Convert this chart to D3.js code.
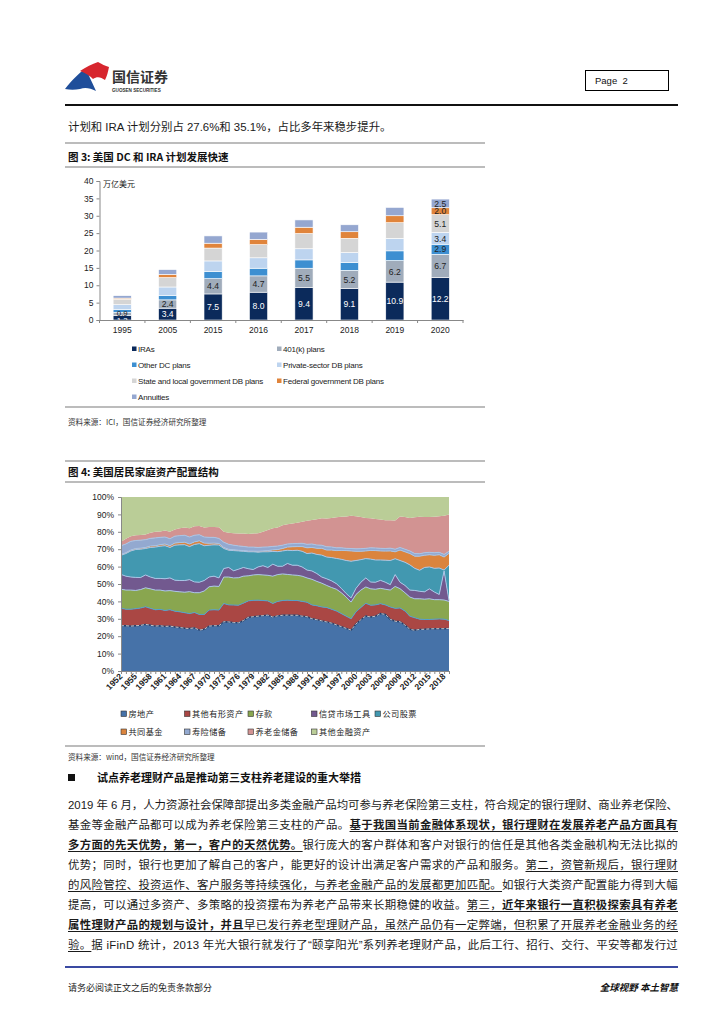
<!DOCTYPE html>
<html>
<head>
<meta charset="utf-8">
<script src="https://cdn.jsdelivr.net/npm/d3@7"></script>
<style>
  body { margin: 0; background: #fff; }
  #page { position: relative; width: 724px; height: 1024px; overflow: hidden; background: #fff; }
  #page svg { position: absolute; left: 0; top: 0; }
  .para { position: absolute; left: 68px; white-space: nowrap;
          font-family: "Liberation Sans", "Noto Sans CJK SC", sans-serif; font-size: 11.4px; line-height: 17px;
          color: #1a1a1a; }
  .para .u { text-decoration: underline; text-underline-offset: 2px; }
  .para .b { font-weight: bold; }
</style>
</head>
<body>
<div id="page"></div>
<script>
// ---- 图3 数据 (万亿美元)
const years3 = ["1995", "2005", "2015", "2016", "2017", "2018", "2019", "2020"];
const iras      = [1.3, 3.4, 7.5, 8.0, 9.4, 9.1, 10.9, 12.2];
const k401      = [0.9, 2.4, 4.4, 4.7, 5.5, 5.2, 6.2, 6.7];
const otherDC   = [0.8, 1.3, 2.1, 2.2, 2.4, 2.2, 2.8, 2.9];
const privateDB = [1.4, 2.4, 3.0, 3.0, 3.2, 2.9, 3.6, 3.4];
const stateDB   = [1.6, 2.7, 3.7, 3.8, 4.4, 4.1, 4.5, 5.1];
const federalDB = [0.3, 0.9, 1.4, 1.5, 1.8, 1.9, 2.0, 2.0];
const annuities = [0.7, 1.4, 2.1, 2.1, 2.1, 2.0, 2.4, 2.5];
const names3 = ["IRAs", "401(k) plans", "Other DC plans", "Private-sector DB plans",
  "State and local government DB plans", "Federal government DB plans", "Annuities"];
const colors3 = ["#0b2a5b", "#a0acbb", "#3d8fd1", "#bdd4ef", "#d5d5d5", "#e0843b", "#95a7d0"];
const yTicks3 = [0, 5, 10, 15, 20, 25, 30, 35, 40];

// ---- 图4 数据 (%), 1952-2019
const years4 = d3.range(1952, 2020);
const realEstate = [26.0,26.0,25.8,26.0,26.2,26.8,26.3,25.8,26.0,25.6, 25.8,25.3,25.0,24.6,24.4,24.8,23.5,24.0,25.8,26.0,
  26.0,28.3,28.2,27.8,27.7,29.0,30.8,31.2,31.5,31.8, 32.1,31.0,31.7,32.0,32.1,32.0,32.0,31.5,31.2,30.0,
  29.5,28.8,28.2,27.5,26.5,25.5,24.5,23.5,27.0,29.5, 31.6,31.0,31.5,33.0,32.5,29.7,28.6,28.3,26.4,24.0,
  23.4,23.9,24.0,24.2,24.3,24.3,24.3,24.5];
const otherTangible = [10.0,9.5,9.7,9.8,10.0,10.1,9.7,9.4,9.4,9.2, 9.4,9.1,9.0,8.9,8.6,8.8,9.0,8.5,9.2,9.2,
  9.0,10.5,9.8,10.1,10.1,10.0,9.5,9.4,9.2,8.7, 8.2,7.8,8.3,8.5,8.6,8.5,8.5,8.5,8.3,8.0,
  8.0,8.0,8.3,8.0,8.0,7.5,7.0,6.5,7.0,7.0, 7.3,6.8,6.5,5.7,5.5,7.1,7.4,7.9,8.1,7.5,
  7.2,5.9,5.6,5.4,5.5,5.6,5.5,4.5];
const deposits = [11.0,11.0,11.0,10.5,10.6,10.9,11.2,11.3,11.1,11.2, 11.0,11.4,11.5,11.8,12.6,11.4,12.5,13.5,13.4,13.6,
  13.6,15.2,16.0,15.6,15.8,15.5,14.4,14.6,14.7,14.7, 14.7,15.7,15.4,15.3,14.8,14.7,14.5,14.5,14.0,14.7,
  14.0,13.7,12.7,12.5,12.5,12.0,11.0,9.6,10.0,10.0, 9.4,9.4,9.0,8.8,9.0,9.7,12.6,11.1,10.5,11.0,
  10.9,11.7,11.7,11.9,11.2,11.1,11.0,11.0];
const creditMkt = [8.5,8.0,7.5,7.5,6.9,7.4,6.8,6.7,6.7,7.0, 7.3,6.4,6.5,6.7,6.9,6.2,6.0,6.0,5.6,5.7,
  4.9,4.9,5.5,4.1,4.9,5.0,4.1,3.1,4.4,5.3, 4.5,6.9,4.8,4.4,6.3,5.6,5.8,5.3,4.5,4.8,
  4.5,3.5,3.8,3.8,3.2,2.5,2.0,2.4,3.5,4.5, 5.2,3.9,4.0,4.6,4.0,3.1,6.8,3.7,4.2,4.0,
  4.8,4.3,4.2,5.7,4.4,3.0,16.7,0.5];
const equities = [11.0,13.0,15.0,16.0,16.3,15.2,17.0,18.0,18.5,19.0, 17.5,20.1,20.5,20.6,19.0,21.5,22.2,20.0,18.3,18.0,
  18.9,11.5,9.9,11.6,10.5,9.3,9.7,10.2,8.5,8.0, 9.0,7.3,8.4,8.8,7.6,8.4,8.6,9.0,9.5,10.3,
  11.0,12.6,12.5,13.4,14.5,16.7,19.0,21.1,16.0,13.0, 11.1,13.2,12.8,11.7,12.7,13.9,9.1,12.5,13.3,14.5,
  12.7,12.1,14.0,12.6,13.6,15.2,0.5,20.3];
const mutualFunds = [0.5,0.5,0.5,0.6,0.6,0.6,0.8,0.8,0.9,1.0, 1.0,1.2,1.3,1.4,1.5,1.5,1.6,1.5,1.1,1.0,
  0.9,0.6,0.5,0.5,0.4,0.4,0.4,0.4,0.5,0.5, 0.7,0.9,1.2,1.4,1.8,2.2,2.1,2.7,3.3,3.2,
  3.5,3.9,4.0,4.3,4.5,5.1,5.7,5.9,5.3,4.8, 4.4,5.0,5.4,5.2,5.2,5.5,4.0,6.0,6.0,6.5,
  7.0,8.1,7.0,7.0,7.5,7.6,7.5,6.8];
const lifeIns = [5.0,5.0,5.0,4.6,4.6,4.5,4.4,4.5,4.2,4.0, 4.0,4.0,4.0,4.0,4.0,3.8,3.5,3.5,3.4,3.3,
  2.9,3.0,2.9,2.6,2.5,2.4,2.3,2.3,2.2,2.2, 2.1,2.0,2.0,1.9,1.8,1.8,1.8,1.9,2.0,2.0,
  1.9,1.8,1.9,1.8,1.6,1.5,1.3,1.4,1.4,1.5, 1.5,1.5,1.5,1.5,1.5,1.6,1.5,1.5,1.5,1.5,
  1.5,1.4,1.5,1.4,1.5,1.4,1.5,1.2];
const pension = [2.3,3.0,3.0,3.0,3.0,3.0,3.3,3.5,3.4,3.8, 4.0,3.8,4.2,4.4,5.0,5.2,5.0,5.5,6.0,6.0,
  6.4,6.0,6.7,6.9,7.1,7.4,7.6,7.8,8.2,8.8, 9.7,10.4,10.7,11.4,11.3,11.6,11.9,12.4,13.5,13.8,
  14.8,15.5,16.2,16.7,17.6,17.8,18.3,18.8,18.8,18.2, 17.5,17.0,16.7,16.5,16.3,16.0,16.5,17.8,18.5,19.0,
  20.9,21.2,20.5,20.3,20.7,20.8,22.2,21.2];
const otherFin = [25.7,24.0,22.5,22.0,21.8,21.5,20.5,20.0,19.8,19.2, 20.0,18.7,18.0,17.6,18.0,16.8,16.7,17.5,17.2,17.2,
  17.4,20.0,20.5,20.8,21.0,21.0,21.2,21.0,20.8,20.0, 19.0,18.0,17.5,16.3,15.7,15.2,14.8,14.2,13.7,13.2,
  12.8,12.2,12.4,12.0,11.6,11.4,11.2,10.8,11.0,11.5, 12.0,12.2,12.6,13.0,13.3,13.4,13.5,11.2,11.5,12.0,
  11.6,11.4,11.5,11.5,11.3,11.0,10.8,10.0];
const names4 = ["房地产", "其他有形资产", "存款", "信贷市场工具", "公司股票", "共同基金", "寿险储备", "养老金储备", "其他金融资产"];
const colors4 = ["#4672a8", "#aa4744", "#89a64f", "#72598f", "#4298b0", "#db843d", "#93a9d0", "#d29392", "#bacd97"];
const yTicks4 = [0, 10, 20, 30, 40, 50, 60, 70, 80, 90, 100];

// ---- 正文
const topLine = "计划和 IRA 计划分别占 27.6%和 35.1%，占比多年来稳步提升。";
const heading = "试点养老理财产品是推动第三支柱养老建设的重大举措";
// [文字, 0 普通 / 1 下划线 / 2 下划线加粗]
const paraLines = [
  [["2019 年 6 月，人力资源社会保障部提出多类金融产品均可参与养老保险第三支柱，符合规定的银行理财、商业养老保险、", 0]],
  [["基金等金融产品都可以成为养老保险第三支柱的产品。", 0], ["基于我国当前金融体系现状，银行理财在发展养老产品方面具有", 2]],
  [["多方面的先天优势，第一，客户的天然优势。", 2], ["银行庞大的客户群体和客户对银行的信任是其他各类金融机构无法比拟的", 0]],
  [["优势；同时，银行也更加了解自己的客户，能更好的设计出满足客户需求的产品和服务。", 0], ["第二，资管新规后，银行理财", 1]],
  [["的风险管控、投资运作、客户服务等持续强化，与养老金融产品的发展都更加匹配。", 1], ["如银行大类资产配置能力得到大幅", 0]],
  [["提高，可以通过多资产、多策略的投资摆布为养老产品带来长期稳健的收益。", 0], ["第三，", 1], ["近年来银行一直积极探索具有养老", 2]],
  [["属性理财产品的规划与设计，并且", 2], ["早已发行养老型理财产品，虽然产品仍有一定弊端，但积累了开展养老金融业务的经", 1]],
  [["验。", 1], ["据 iFinD 统计，2013 年光大银行就发行了“颐享阳光”系列养老理财产品，此后工行、招行、交行、平安等都发行过", 0]]
];

const W = 724, H = 1024;
const LAT = "'Liberation Sans', 'Noto Sans CJK SC', sans-serif";
const CJK = "'Noto Sans CJK SC', 'Liberation Sans', sans-serif";
const page = d3.select("#page");
const svg = page.append("svg").attr("width", W).attr("height", H);

// ===== 页眉
const logo = svg.append("g");
logo.append("path").attr("d", "M65,89 C72,80 78,74 86,68 C88,74 91,80 96,91 C90,88 85,87 80,89 C75,90 70,90 65,89 Z")
  .attr("fill", "#1f4e9a");
logo.append("path").attr("d", "M80,71 C86,67 92,64 98,62 C102,64 105,66 109,67 C108,72 107,76 105,80 C101,77 97,76 93,79 C90,76 86,73 80,71 Z")
  .attr("fill", "#d7262e");
logo.append("text").attr("x", 112).attr("y", 82).attr("font-family", CJK).attr("font-weight", "bold")
  .attr("font-size", 14).attr("fill", "#333").text("国信证券");
logo.append("text").attr("x", 112).attr("y", 92).attr("font-family", LAT).attr("font-weight", "bold")
  .attr("font-size", 4.6).attr("fill", "#333").text("GUOSEN SECURITIES");

svg.append("rect").attr("x", 585.5).attr("y", 70.5).attr("width", 83).attr("height", 20)
  .attr("fill", "none").attr("stroke", "#000").attr("stroke-width", 1);
svg.append("text").attr("x", 595).attr("y", 84).attr("font-family", LAT).attr("font-size", 9.5)
  .attr("fill", "#111").attr("xml:space", "preserve").text("Page  2");
svg.append("line").attr("x1", 65).attr("x2", 678).attr("y1", 105).attr("y2", 105)
  .attr("stroke", "#111").attr("stroke-width", 2);

svg.append("text").attr("x", 68).attr("y", 131).attr("font-family", LAT).attr("font-size", 11.4)
  .attr("fill", "#1a1a1a").text(topLine);

function rule(y) {
  svg.append("line").attr("x1", 65).attr("x2", 485).attr("y1", y).attr("y2", y)
    .attr("stroke", "#a6a6a6").attr("stroke-width", 1.5);
}
function title(y, t) {
  svg.append("text").attr("x", 68).attr("y", y).attr("font-family", CJK).attr("font-weight", "bold")
    .attr("font-size", 10.5).attr("fill", "#111").text(t);
}
function source(y, t) {
  svg.append("text").attr("x", 68).attr("y", y).attr("font-family", CJK).attr("font-size", 7.6)
    .attr("fill", "#333").text(t);
}

// ===== 图3
rule(143); title(161, "图 3: 美国 DC 和 IRA 计划发展快速"); rule(167);

const x3 = d3.scaleBand().domain(years3).range([99.5, 463]).paddingInner(0.6).paddingOuter(0.3);
const y3 = d3.scaleLinear().domain([0, 40]).range([320, 181]);
const series3 = [iras, k401, otherDC, privateDB, stateDB, federalDB, annuities];
const rows3 = years3.map((yr, i) => {
  const r = { year: yr };
  series3.forEach((s, k) => r["s" + k] = s[i]);
  return r;
});
const stack3 = d3.stack().keys(series3.map((s, k) => "s" + k))(rows3);

const c3 = svg.append("g");
c3.selectAll("g.layer").data(stack3).join("g").attr("fill", (d, k) => colors3[k])
  .selectAll("rect").data(d => d).join("rect")
  .attr("x", d => x3(d.data.year)).attr("width", x3.bandwidth())
  .attr("y", d => y3(d[1])).attr("height", d => y3(d[0]) - y3(d[1]))
  .attr("stroke", "#fff").attr("stroke-width", 0.6);

// 数值标签: IRAs 与 401(k) 全部年份, 2020 年全部分项 (1995 年 IRAs 标签被轴线遮住一半)
stack3.forEach((layer, k) => {
  layer.forEach((d, i) => {
    if (k > 1 && i !== years3.length - 1) return;
    const low = i === 0;
    c3.append("text").attr("x", x3(d.data.year) + x3.bandwidth() / 2)
      .attr("y", low ? (k === 0 ? 323 : 315.5) : (y3(d[0]) + y3(d[1])) / 2 + 3.2).attr("text-anchor", "middle")
      .attr("font-family", LAT).attr("font-size", low ? 7.8 : 8.6)
      .attr("fill", k === 0 ? "#fff" : "#222").text(series3[k][i].toFixed(1));
  });
});

const yAx3 = c3.append("g").attr("transform", "translate(99.5,0)")
  .call(d3.axisLeft(y3).tickValues(yTicks3).tickSize(3).tickPadding(3));
yAx3.select(".domain").attr("stroke", "#888");
yAx3.selectAll(".tick line").attr("stroke", "#888");
yAx3.selectAll("text").attr("font-family", LAT).attr("font-size", 8.5).attr("fill", "#222");

// 轴下方白底, 遮住 1995 年标签下半
c3.append("rect").attr("x", 100).attr("y", 320.6).attr("width", 363).attr("height", 6).attr("fill", "#fff");
const xAx3 = c3.append("g").attr("transform", "translate(0,320)")
  .call(d3.axisBottom(x3).tickSize(0).tickPadding(7));
xAx3.select(".domain").attr("stroke", "#888");
xAx3.selectAll("text").attr("font-family", LAT).attr("font-size", 8.5).attr("fill", "#222");
const step3 = x3.step();
c3.selectAll("line.bt").data(d3.range(years3.length + 1)).join("line")
  .attr("x1", i => x3(years3[0]) + x3.bandwidth() / 2 - step3 / 2 + i * step3)
  .attr("x2", i => x3(years3[0]) + x3.bandwidth() / 2 - step3 / 2 + i * step3)
  .attr("y1", 320).attr("y2", 323).attr("stroke", "#888");

c3.append("text").attr("x", 103).attr("y", 187).attr("font-family", CJK).attr("font-size", 8)
  .attr("fill", "#222").text("万亿美元");

const lg3 = c3.selectAll("g.lg").data(names3).join("g")
  .attr("transform", (d, i) => `translate(${i % 2 ? 277 : 132},${349 + Math.floor(i / 2) * 16})`);
lg3.append("rect").attr("x", 0).attr("y", -2.5).attr("width", 4.5).attr("height", 4.5)
  .attr("fill", (d, i) => colors3[i]);
lg3.append("text").attr("x", 6).attr("y", 3).attr("font-family", LAT).attr("font-size", 8)
  .attr("letter-spacing", -0.2).attr("fill", "#222").text(d => d);

rule(407); source(425, "资料来源：ICI，国信证券经济研究所整理");

// ===== 图4
rule(461); title(476, "图 4: 美国居民家庭资产配置结构"); rule(482);

const x4 = d3.scaleLinear().domain([1952, 2019]).range([121, 449]);
const y4 = d3.scaleLinear().domain([0, 100]).range([671, 497]);
const series4 = [realEstate, otherTangible, deposits, creditMkt, equities, mutualFunds, lifeIns, pension, otherFin];
const rows4 = years4.map((yr, i) => {
  const r = { year: yr };
  series4.forEach((s, k) => r["s" + k] = s[i]);
  return r;
});
const stack4 = d3.stack().keys(series4.map((s, k) => "s" + k))(rows4);
const area4 = d3.area().x(d => x4(d.data.year)).y0(d => y4(d[0])).y1(d => y4(d[1]));
const top4 = d3.line().x(d => x4(d.data.year)).y(d => y4(d[1]));

const c4 = svg.append("g");
c4.selectAll("path.ar").data(stack4).join("path").attr("class", "ar")
  .attr("fill", (d, k) => colors4[k]).attr("d", area4);
// 面积边线
const edge = ["#24406d", "#4f9fd0", "#a9c5e6", "#a9c5e6", "#a9c5e6", "#a9c5e6", "#a9c5e6", null, null];
stack4.forEach((layer, k) => {
  if (!edge[k]) return;
  c4.append("path").attr("d", top4(layer)).attr("fill", "none")
    .attr("stroke", edge[k]).attr("stroke-width", k === 0 ? 1.4 : 1);
});
c4.append("path").attr("d", top4(stack4[0])).attr("fill", "none")
  .attr("stroke", "#c8c8c8").attr("stroke-width", 1).attr("stroke-dasharray", "3,2");

const yAx4 = c4.append("g").attr("transform", "translate(121,0)")
  .call(d3.axisLeft(y4).tickValues(yTicks4).tickSize(3).tickPadding(4).tickFormat(d => d + "%"));
yAx4.select(".domain").attr("stroke", "#888");
yAx4.selectAll(".tick line").attr("stroke", "#888");
yAx4.selectAll("text").attr("font-family", LAT).attr("font-size", 8.5).attr("fill", "#222");

const xAx4 = c4.append("g").attr("transform", "translate(0,671)")
  .call(d3.axisBottom(x4).tickValues(years4).tickSize(3).tickFormat(""));
xAx4.select(".domain").attr("stroke", "#888");
xAx4.selectAll(".tick line").attr("stroke", "#888");
c4.selectAll("text.xl").data(years4.filter((d, i) => i % 3 === 0)).join("text")
  .attr("transform", d => `translate(${x4(d) + 2},${677}) rotate(-45)`)
  .attr("text-anchor", "end").attr("font-family", LAT).attr("font-weight", "bold")
  .attr("font-size", 8.5).attr("fill", "#222").text(d => d);

const lg4 = c4.selectAll("g.lg").data(names4).join("g")
  .attr("transform", (d, i) => `translate(${121 + (i % 5) * 63.5},${714 + Math.floor(i / 5) * 18})`);
lg4.append("rect").attr("x", 0).attr("y", -3).attr("width", 5.5).attr("height", 5.5)
  .attr("fill", (d, i) => colors4[i]).attr("stroke", "#333").attr("stroke-width", 0.6);
lg4.append("text").attr("x", 7.5).attr("y", 3).attr("font-family", CJK).attr("font-size", 8.2)
  .attr("letter-spacing", 0.4).attr("fill", "#222").text(d => d);

rule(746); source(760, "资料来源：wind，国信证券经济研究所整理");

// ===== 正文
svg.append("rect").attr("x", 68).attr("y", 774).attr("width", 7).attr("height", 7).attr("fill", "#111");
svg.append("text").attr("x", 97).attr("y", 782).attr("font-family", CJK).attr("font-weight", "bold")
  .attr("font-size", 11).attr("fill", "#111").text(heading);

// 每行两端对齐: 量出自然宽度后用字距撑满 610px
paraLines.forEach((segs, i) => {
  const div = page.append("div").attr("class", "para").style("top", (797 + i * 20) + "px");
  segs.forEach(([t, s]) => {
    div.append("span").classed("u", s > 0).classed("b", s === 2).text(t);
  });
  const n = Array.from(segs.map(s => s[0]).join("")).length;
  const w = div.node().getBoundingClientRect().width;
  div.style("letter-spacing", ((610 - w) / n) + "px");
});

// ===== 页脚
svg.append("line").attr("x1", 65).attr("x2", 678).attr("y1", 967).attr("y2", 967)
  .attr("stroke", "#3a4aa2").attr("stroke-width", 2);
svg.append("text").attr("x", 68).attr("y", 991).attr("font-family", CJK).attr("font-size", 9)
  .attr("fill", "#222").text("请务必阅读正文之后的免责条款部分");
svg.append("text").attr("x", 678).attr("y", 991).attr("text-anchor", "end").attr("font-family", CJK)
  .attr("font-weight", "bold").attr("font-style", "italic").attr("font-size", 9.5)
  .attr("fill", "#111").text("全球视野 本土智慧");
</script>
</body>
</html>
